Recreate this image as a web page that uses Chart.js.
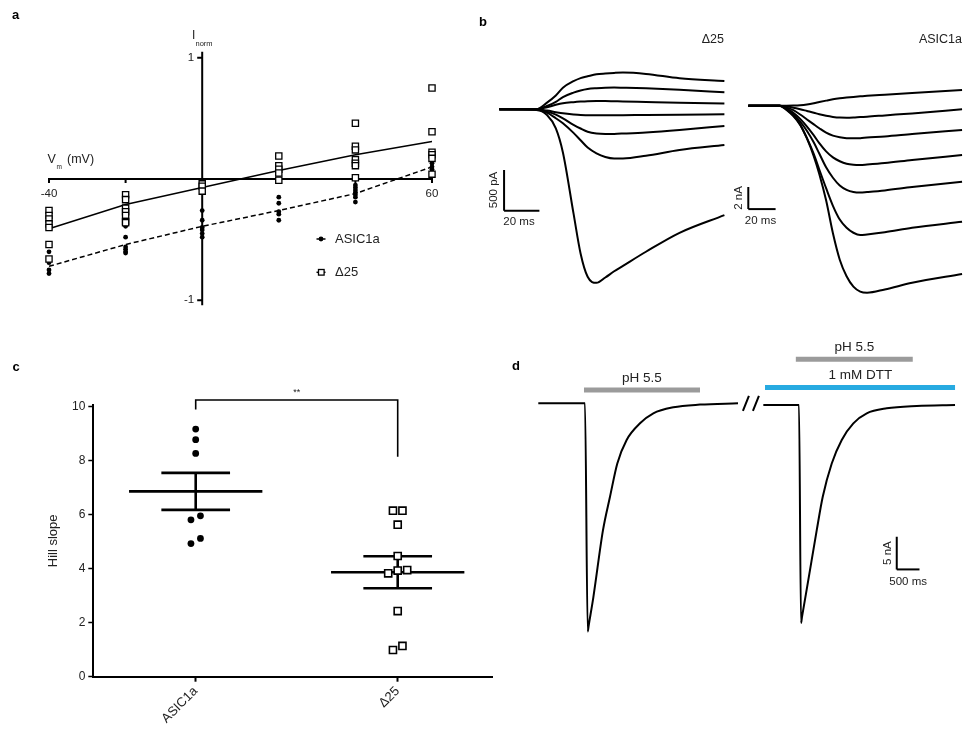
<!DOCTYPE html>
<html>
<head>
<meta charset="utf-8">
<title>ASIC1a / Δ25</title>
<script src="https://cdn.jsdelivr.net/npm/chart.js@4.4.1/dist/chart.umd.min.js"></script>
<style>
  body { margin: 0; background: #fff; }
  #fig { position: relative; width: 964px; height: 729px; overflow: hidden; }
  #fig canvas { position: absolute; left: 0; top: 0; }
</style>
</head>
<body>
<div id="fig">
  <canvas id="ivChart" width="964" height="729"></canvas>
  <canvas id="d25Chart" width="964" height="729"></canvas>
  <canvas id="asicChart" width="964" height="729"></canvas>
  <canvas id="hillChart" width="964" height="729"></canvas>
  <canvas id="dttChart" width="964" height="729"></canvas>
</div>
<script>
// ---------- data ----------

// a: normalised current vs membrane potential
const voltages = [-40, -20, 0, 20, 40, 60];
const asicIV = [
  [-0.60, -0.69, -0.75, -0.78],
  [-0.39, -0.48, -0.56, -0.58, -0.60, -0.61],
  [-0.26, -0.34, -0.40, -0.42, -0.45, -0.48],
  [-0.15, -0.20, -0.27, -0.29, -0.34],
  [-0.05, -0.07, -0.09, -0.11, -0.13, -0.15, -0.19],
  [0.06, 0.08, 0.10, 0.13]
];
const d25IV = [
  [-0.26, -0.30, -0.33, -0.37, -0.40, -0.54, -0.66],
  [-0.13, -0.17, -0.24, -0.27, -0.30, -0.35, -0.36],
  [-0.04, -0.06, -0.10],
  [0.19, 0.11, 0.08, 0.05, -0.01],
  [0.46, 0.27, 0.24, 0.16, 0.13, 0.11, 0.01],
  [0.75, 0.39, 0.22, 0.20, 0.17, 0.04]
];
const asicIVMean = [-0.72, -0.54, -0.39, -0.26, -0.12, 0.10];
const d25IVMean = [-0.41, -0.21, -0.07, 0.07, 0.20, 0.31];
const ivTickLabelsX = [-40, 60];
const ivTicksY = [-1, 1];

// b: current traces, Δ25 in pA, ASIC1a in nA
const d25Time = [0, 21, 27, 32, 36, 42, 46, 50, 55, 60, 65, 70, 83, 102, 127.4];
const d25Sweeps = [
  [0, 0, 82, 170, 265, 345, 383, 405, 430, 440, 447, 451, 435, 381, 349],
  [0, 0, 41, 90, 150, 205, 232, 250, 260, 266, 267, 265, 258, 240, 209],
  [0, 0, 25, 55, 74, 88, 95, 100, 102, 101, 99, 97, 90, 80, 70],
  [0, 0, -16, -35, -49, -63, -70, -72, -74, -74, -74, -73, -70, -66, -62],
  [0, 0, -29, -65, -111, -190, -236, -275, -297, -303, -302, -298, -285, -255, -205],
  [0, 0, -41, -110, -172, -290, -380, -470, -541, -585, -603, -603, -570, -500, -439],
  [0, -8, -70, -234, -530, -1279, -1771, -2058, -2132, -2066, -1990, -1923, -1750, -1517, -1300]
];
const asicTime = [0, 23, 28, 33, 38, 43, 48, 52, 57, 62, 67, 72, 77, 82, 87, 100, 120, 156.6];
const asicSweeps = [
  [0, 0, 0, 0.01, 0.04, 0.11, 0.22, 0.33, 0.46, 0.58, 0.67, 0.74, 0.80, 0.85, 0.90, 1.00, 1.15, 1.42],
  [0, 0, -0.08, -0.18, -0.32, -0.48, -0.64, -0.78, -0.92, -1.02, -1.08, -1.09, -1.07, -1.03, -1.0, -0.88, -0.70, -0.33],
  [0, 0, -0.15, -0.4, -0.8, -1.25, -1.7, -2.05, -2.45, -2.72, -2.87, -2.95, -2.97, -2.95, -2.9, -2.8, -2.58, -2.21],
  [0, 0, -0.25, -0.65, -1.2, -1.9, -2.7, -3.4, -4.15, -4.7, -5.05, -5.28, -5.37, -5.39, -5.35, -5.22, -4.94, -4.48],
  [0, 0, -0.3, -0.8, -1.45, -2.3, -3.35, -4.35, -5.6, -6.55, -7.25, -7.65, -7.85, -7.9, -7.85, -7.7, -7.4, -6.91],
  [0, 0, -0.35, -0.9, -1.7, -2.95, -4.4, -5.8, -7.5, -9.1, -10.35, -11.1, -11.55, -11.76, -11.7, -11.5, -11.1, -10.55],
  [0, 0, -0.38, -0.95, -1.75, -3.0, -4.6, -6.2, -8.6, -11.6, -14.0, -15.5, -16.45, -16.9, -17.0, -16.7, -16.1, -15.3]
];

// c: Hill slopes
const hillGroups = ['ASIC1a', 'Δ25'];
const asicHill = [9.17, 8.78, 8.27, 5.96, 5.81, 5.12, 4.93];
const d25Hill = [6.15, 6.15, 5.63, 4.47, 3.95, 3.93, 3.83, 2.43, 1.14, 0.99];
const hillTicks = [0, 2, 4, 6, 8, 10];
const bracketTop = 10.25;
const bracketEnds = [9.9, 8.15];

// d: pH 5.5 responses before / with DTT (ms, nA)
const ctrlTime = [0, 1027, 1087, 1110, 1210, 1423, 1577, 1738, 1943, 2237, 2530, 2970, 3557, 4393];
const ctrlCurrent = [0, 0, -34.9, -33.9, -29.7, -19.4, -14.3, -9.2, -5.6, -3.06, -1.53, -0.61, -0.2, 0];
const dttTime = [4950, 5735, 5779, 5800, 5940, 6125, 6257, 6455, 6675, 6930, 7225, 7665, 8325, 9167];
const dttCurrent = [-0.26, -0.26, -33.6, -32.7, -27.0, -19.4, -14.3, -9.2, -5.6, -3.06, -1.53, -0.77, -0.41, -0.26];
const phBarCtrl = [1005, 3557];
const phBarDtt = [5665, 8237];
const dttBar = [4987, 9167];
const barLevels = [2.04, 6.73, 2.40];
const breakMarks = [4567, 4787];

// ---------- helpers ----------
const FONT = '"Liberation Sans", Arial, Helvetica, sans-serif';
const INK = '#222';
const font = (size, bold) => (bold ? 'bold ' : '') + size + 'px ' + FONT;

// value range that spans pixels p0..p1 when vA sits at pA and vB at pB
function range(p0, p1, pA, vA, pB, vB) {
  const k = (vB - vA) / (pB - pA);
  return [vA + (p0 - pA) * k, vA + (p1 - pA) * k];
}

function frame(box, xr, yr) {
  return {
    responsive: false,
    animation: false,
    events: [],
    layout: { padding: { left: box.l, top: box.t, right: 964 - box.r, bottom: 729 - box.b } },
    plugins: { legend: { display: false }, tooltip: { enabled: false } },
    scales: {
      x: { type: 'linear', display: false, bounds: 'data', min: xr[0], max: xr[1] },
      y: { type: 'linear', display: false, bounds: 'data', min: yr[1], max: yr[0] }
    }
  };
}

function trace(xs, ys, extra) {
  return Object.assign({
    data: xs.map((x, i) => ({ x, y: ys[i] })),
    showLine: true, pointRadius: 0, borderColor: '#000', borderWidth: 2,
    cubicInterpolationMode: 'monotone', fill: false, clip: false
  }, extra || {});
}

function segment(x0, y0, x1, y1, extra) {
  return trace([x0, x1], [y0, y1], Object.assign({ cubicInterpolationMode: 'default', tension: 0, borderCapStyle: 'butt' }, extra || {}));
}

function texts(id, items) {
  return {
    id,
    afterDraw(chart) {
      const ctx = chart.ctx;
      items.forEach(it => {
        const x = typeof it.x === 'function' ? it.x(chart) : it.x;
        const y = typeof it.y === 'function' ? it.y(chart) : it.y;
        ctx.save();
        ctx.font = it.font || font(12);
        ctx.fillStyle = it.color || INK;
        ctx.textAlign = it.align || 'center';
        ctx.textBaseline = 'middle';
        ctx.translate(x, y);
        if (it.rot) ctx.rotate(it.rot);
        ctx.fillText(it.text, 0, 0);
        ctx.restore();
      });
    }
  };
}

const px = (c, v) => c.scales.x.getPixelForValue(v);
const py = (c, v) => c.scales.y.getPixelForValue(v);

// ---------- a: I-V ----------
const ivAxes = {
  id: 'ivAxes',
  beforeDatasetsDraw(chart) {
    const { ctx } = chart;
    const x0 = px(chart, 0), y0 = py(chart, 0);
    ctx.save();
    ctx.strokeStyle = '#000';
    ctx.lineWidth = 2;
    ctx.beginPath();
    ctx.moveTo(px(chart, voltages[0]) - 1, y0);
    ctx.lineTo(px(chart, voltages[voltages.length - 1]) + 1, y0);
    ctx.moveTo(x0, py(chart, 1.05));
    ctx.lineTo(x0, py(chart, -1.04));
    voltages.forEach(v => { ctx.moveTo(px(chart, v), y0); ctx.lineTo(px(chart, v), y0 + 4); });
    ivTicksY.forEach(v => { ctx.moveTo(x0 - 5, py(chart, v)); ctx.lineTo(x0, py(chart, v)); });
    ctx.stroke();
    ctx.font = font(11.5);
    ctx.fillStyle = INK;
    ctx.textBaseline = 'middle';
    ctx.textAlign = 'center';
    ivTickLabelsX.forEach(v => ctx.fillText(String(v), px(chart, v), y0 + 15));
    ctx.textAlign = 'right';
    ivTicksY.forEach(v => ctx.fillText(String(v), x0 - 8, py(chart, v)));
    ctx.restore();
  },
  afterDraw(chart) {
    const { ctx } = chart;
    ctx.save();
    ctx.lineWidth = 1.5;
    ctx.strokeStyle = '#000';
    [239, 272.3].forEach((y, i) => {
      ctx.beginPath();
      ctx.moveTo(316.5, y);
      ctx.lineTo(325.5, y);
      ctx.stroke();
      if (i === 0) {
        ctx.fillStyle = '#000';
        ctx.beginPath();
        ctx.arc(321, y, 2.4, 0, Math.PI * 2);
        ctx.fill();
      } else {
        ctx.fillStyle = '#fff';
        ctx.fillRect(318.5, y - 2.8, 5.6, 5.6);
        ctx.lineWidth = 1.3;
        ctx.strokeRect(318.5, y - 2.8, 5.6, 5.6);
      }
    });
    ctx.restore();
  }
};

const ivPoints = sets => sets.flatMap((vals, i) => vals.map(v => ({ x: voltages[i], y: v })));

const ivOpts = frame({ l: 40, t: 45, r: 445, b: 315 },
  range(40, 445, 49, -40, 432, 60),
  range(45, 315, 179, 0, 57.7, 1));

new Chart(document.getElementById('ivChart'), {
  type: 'scatter',
  data: {
    datasets: [
      { data: ivPoints(d25IV), pointStyle: 'rect', pointRadius: 4.4, backgroundColor: '#fff',
        borderColor: '#000', borderWidth: 1.3, order: 0, clip: false },
      { data: ivPoints(asicIV), pointStyle: 'circle', pointRadius: 2.4, backgroundColor: '#000',
        borderWidth: 0, order: 1, clip: false },
      trace(voltages, d25IVMean, { borderWidth: 1.5, cubicInterpolationMode: 'default', tension: 0, order: 2 }),
      trace(voltages, asicIVMean, { borderWidth: 1.5, cubicInterpolationMode: 'default', tension: 0,
        borderDash: [5, 3], order: 3 })
    ]
  },
  options: ivOpts,
  plugins: [ivAxes, texts('ivText', [
    { text: 'a', x: 15.5, y: 15, font: font(13, true), color: '#000' },
    { text: 'I', x: 192, y: 36, align: 'left', font: font(12) },
    { text: 'norm', x: 195.5, y: 43.5, align: 'left', font: font(7.5) },
    { text: 'V', x: 47.5, y: 160, align: 'left', font: font(12.5) },
    { text: 'm', x: 56.5, y: 167, align: 'left', font: font(6.5) },
    { text: '(mV)', x: 67, y: 160, align: 'left', font: font(12.5) },
    { text: 'ASIC1a', x: 335, y: 239, align: 'left', font: font(13) },
    { text: 'Δ25', x: 335, y: 272.3, align: 'left', font: font(13) }
  ])]
});

// ---------- b: traces ----------
new Chart(document.getElementById('d25Chart'), {
  type: 'scatter',
  data: {
    datasets: d25Sweeps.map(s => trace(d25Time, s)).concat([
      segment(2.7, -747, 2.7, -1247),
      segment(2.7, -1247, 22.7, -1247)
    ])
  },
  options: frame({ l: 490, t: 60, r: 730, b: 300 },
    range(490, 730, 499.3, 0, 724.4, 127.4),
    range(60, 300, 109.3, 0, 150, -500)),
  plugins: [texts('d25Text', [
    { text: 'b', x: 483, y: 22.5, font: font(13, true), color: '#000' },
    { text: 'Δ25', x: 724, y: 40, align: 'right', font: font(12.5) },
    { text: '500 pA', x: 494, y: 190, rot: -Math.PI / 2, font: font(11.5) },
    { text: '20 ms', x: 519, y: 221.7, font: font(11.5) }
  ])]
});

new Chart(document.getElementById('asicChart'), {
  type: 'scatter',
  data: {
    datasets: asicSweeps.map(s => trace(asicTime, s)).concat([
      segment(0, -7.4, 0, -9.4),
      segment(0, -9.4, 20, -9.4)
    ])
  },
  options: frame({ l: 740, t: 60, r: 964, b: 300 },
    range(740, 964, 748.3, 0, 775.6, 20),
    range(60, 300, 105.7, 0, 127.7, -2)),
  plugins: [texts('asicText', [
    { text: 'ASIC1a', x: 962, y: 40, align: 'right', font: font(12.5) },
    { text: '2 nA', x: 739, y: 198, rot: -Math.PI / 2, font: font(11.5) },
    { text: '20 ms', x: 760.5, y: 220.7, font: font(11.5) }
  ])]
});

// ---------- c: Hill slope ----------
const mean = a => a.reduce((s, v) => s + v, 0) / a.length;
const sem = a => {
  const m = mean(a);
  return Math.sqrt(a.reduce((s, v) => s + (v - m) ** 2, 0) / (a.length - 1) / a.length);
};

// spread overlapping points sideways around the group centre
function swarm(values, centre) {
  const order = values.map((v, i) => i).sort((a, b) => values[a] - values[b]);
  const pts = [];
  let group = [];
  const flush = () => {
    group.forEach((idx, k) => pts.push({ x: centre + (k - (group.length - 1) / 2) * 0.047, y: values[idx] }));
    group = [];
  };
  order.forEach(idx => {
    if (group.length && values[idx] - values[group[group.length - 1]] > 0.3) flush();
    group.push(idx);
  });
  flush();
  return pts;
}

function meanSem(values, centre) {
  const m = mean(values), e = sem(values);
  const st = { borderWidth: 2.6, order: 5 };
  return [
    segment(centre - 0.33, m, centre + 0.33, m, st),
    segment(centre - 0.17, m + e, centre + 0.17, m + e, st),
    segment(centre - 0.17, m - e, centre + 0.17, m - e, st),
    segment(centre, m - e, centre, m + e, st)
  ];
}

new Chart(document.getElementById('hillChart'), {
  type: 'scatter',
  data: {
    datasets: [
      { data: swarm(asicHill, 0), pointStyle: 'circle', pointRadius: 3.4, backgroundColor: '#000',
        borderWidth: 0, order: 0, clip: false },
      { data: swarm(d25Hill, 1), pointStyle: 'rect', pointRadius: 5, backgroundColor: '#fff',
        borderColor: '#000', borderWidth: 1.6, order: 0, clip: false },
      trace([0, 0, 1, 1], [bracketEnds[0], bracketTop, bracketTop, bracketEnds[1]],
        { borderWidth: 1.6, cubicInterpolationMode: 'default', tension: 0, order: 6 })
    ].concat(meanSem(asicHill, 0), meanSem(d25Hill, 1))
  },
  options: {
    responsive: false,
    animation: false,
    events: [],
    layout: { padding: { left: 43, top: 405, right: 964 - 492, bottom: 0 } },
    plugins: { legend: { display: false }, tooltip: { enabled: false } },
    scales: {
      x: {
        type: 'linear', bounds: 'data',
        min: range(93.3, 492, 195.7, 0, 397.7, 1)[0],
        max: range(93.3, 492, 195.7, 0, 397.7, 1)[1],
        afterBuildTicks: s => { s.ticks = hillGroups.map((g, i) => ({ value: i })); },
        afterFit: s => { s.height = 729 - 676.7; },
        ticks: { callback: v => hillGroups[v], minRotation: 45, maxRotation: 45, padding: 2,
          color: INK, font: { family: FONT, size: 13 } },
        grid: { display: true, drawOnChartArea: false, drawTicks: true, tickLength: 5, tickWidth: 2, color: '#000' },
        border: { display: true, color: '#000', width: 2 }
      },
      y: {
        type: 'linear', bounds: 'data', min: 0, max: (676.7 - 405) / 27,
        afterBuildTicks: s => { s.ticks = hillTicks.map(v => ({ value: v })); },
        afterFit: s => { s.width = 93.3 - 43; },
        ticks: { callback: v => String(v), padding: 3, color: INK, font: { family: FONT, size: 12 } },
        grid: { display: true, drawOnChartArea: false, drawTicks: true, tickLength: 5, tickWidth: 1.5, color: '#000' },
        border: { display: true, color: '#000', width: 2 },
        title: { display: true, text: 'Hill slope', color: INK, font: { family: FONT, size: 13 }, padding: { top: 3, bottom: 0 } }
      }
    }
  },
  plugins: [texts('hillText', [
    { text: 'c', x: 16, y: 367.5, font: font(13, true), color: '#000' },
    { text: '**', x: c => px(c, 0.5), y: c => py(c, bracketTop) - 7, font: font(9) }
  ])]
});

// ---------- d: DTT ----------
const dttMarks = {
  id: 'dttMarks',
  afterDatasetsDraw(chart) {
    const { ctx } = chart;
    const y0 = py(chart, 0);
    ctx.save();
    ctx.strokeStyle = '#000';
    ctx.lineWidth = 2;
    ctx.beginPath();
    breakMarks.forEach(t => {
      const x = px(chart, t);
      ctx.moveTo(x - 3, y0 + 7.5);
      ctx.lineTo(x + 3, y0 - 7.5);
    });
    ctx.stroke();
    ctx.restore();
  }
};

const bar = (span, level, colour) => segment(span[0], level, span[1], level,
  { borderColor: colour, borderWidth: 5 });

const sbX = 7885, sbTop = -20.4, sbBottom = -25.4;

new Chart(document.getElementById('dttChart'), {
  type: 'scatter',
  data: {
    datasets: [
      trace(ctrlTime, ctrlCurrent),
      trace(dttTime, dttCurrent),
      bar(phBarCtrl, barLevels[0], '#9b9b9b'),
      bar(phBarDtt, barLevels[1], '#9b9b9b'),
      bar(dttBar, barLevels[2], '#27aae1'),
      segment(sbX, sbTop, sbX, sbBottom),
      segment(sbX, sbBottom, sbX + 500, sbBottom)
    ]
  },
  options: frame({ l: 520, t: 330, r: 964, b: 660 },
    range(520, 964, 538.3, 0, 561.03, 500),
    range(330, 660, 403.3, 0, 436, -5)),
  plugins: [dttMarks, texts('dttText', [
    { text: 'd', x: 516, y: 366.7, font: font(13, true), color: '#000' },
    { text: 'pH 5.5', x: c => px(c, (phBarCtrl[0] + phBarCtrl[1]) / 2), y: c => py(c, barLevels[0]) - 12, font: font(13.5) },
    { text: 'pH 5.5', x: c => px(c, (phBarDtt[0] + phBarDtt[1]) / 2), y: c => py(c, barLevels[1]) - 12.5, font: font(13.5) },
    { text: '1 mM DTT', x: c => px(c, (phBarDtt[0] + phBarDtt[1]) / 2) + 6, y: c => py(c, barLevels[2]) - 12.5, font: font(13.5) },
    { text: '5 nA', x: c => px(c, sbX) - 9, y: c => (py(c, sbTop) + py(c, sbBottom)) / 2, rot: -Math.PI / 2, font: font(11.5) },
    { text: '500 ms', x: c => px(c, sbX + 250), y: c => py(c, sbBottom) + 12, font: font(11.5) }
  ])]
});
</script>
</body>
</html>
